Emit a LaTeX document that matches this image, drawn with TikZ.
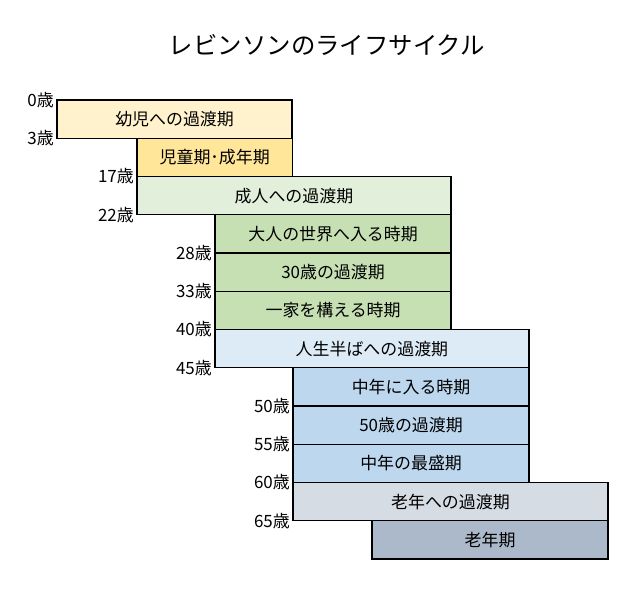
\documentclass[tikz,border=0pt]{standalone}
\usepackage{fontspec}
\setmainfont{Noto Sans CJK JP}
\definecolor{gold1}{HTML}{FFF2CC}
\definecolor{gold2}{HTML}{FFE699}
\definecolor{green1}{HTML}{E2EFDA}
\definecolor{green2}{HTML}{C6E0B4}
\definecolor{blue1}{HTML}{DDEBF7}
\definecolor{blue2}{HTML}{BDD7EE}
\definecolor{gray1}{HTML}{D6DCE4}
\definecolor{gray2}{HTML}{ACB9CA}
\tikzset{
  stage/.style={draw=black, line width=1.4bp, anchor=north west, outer sep=0pt,
    minimum height=38.25bp, inner sep=0pt, font=\fontsize{17}{19}\selectfont},
  age/.style={anchor=east, inner sep=1bp, xshift=-2bp, font=\fontsize{17}{19}\selectfont}
}
\begin{document}
\begin{tikzpicture}[x=1bp, y=-1bp]
	\useasboundingbox (0,0) rectangle (640,600);
	\node[font=\fontsize{24.5}{27}\selectfont] (title) at (327,45) {レビンソンのライフサイクル};
	% stages
	\node[stage, fill=gold1, minimum width=236] (s1) at (57,100) {幼児への過渡期};
	\node[stage, fill=gold2, minimum width=156] (s2) at (137,138.25) {児童期･成年期};
	\node[stage, fill=green1, minimum width=315] (s3) at (137,176.5) {成人への過渡期};
	\node[stage, fill=green2, minimum width=237] (s4) at (215,214.75) {大人の世界へ入る時期};
	\node[stage, fill=green2, minimum width=237] (s5) at (215,253) {30歳の過渡期};
	\node[stage, fill=green2, minimum width=237] (s6) at (215,291.25) {一家を構える時期};
	\node[stage, fill=blue1, minimum width=315] (s7) at (215,329.5) {人生半ばへの過渡期};
	\node[stage, fill=blue2, minimum width=237] (s8) at (293,367.75) {中年に入る時期};
	\node[stage, fill=blue2, minimum width=237] (s9) at (293,406) {50歳の過渡期};
	\node[stage, fill=blue2, minimum width=237] (s10) at (293,444.25) {中年の最盛期};
	\node[stage, fill=gray1, minimum width=316] (s11) at (293,482.5) {老年への過渡期};
	\node[stage, fill=gray2, minimum width=237] (s12) at (372,520.75) {老年期};
	% ages
	\node[age] (a0) at (s1.north west) {0歳};
	\node[age] (a3) at (s1.south west) {3歳};
	\node[age] (a17) at (s3.north west) {17歳};
	\node[age] (a22) at (s3.south west) {22歳};
	\node[age] (a28) at (s4.south west) {28歳};
	\node[age] (a33) at (s5.south west) {33歳};
	\node[age] (a40) at (s6.south west) {40歳};
	\node[age] (a45) at (s7.south west) {45歳};
	\node[age] (a50) at (s8.south west) {50歳};
	\node[age] (a55) at (s9.south west) {55歳};
	\node[age] (a60) at (s10.south west) {60歳};
	\node[age] (a65) at (s11.south west) {65歳};
\end{tikzpicture}
\end{document}
